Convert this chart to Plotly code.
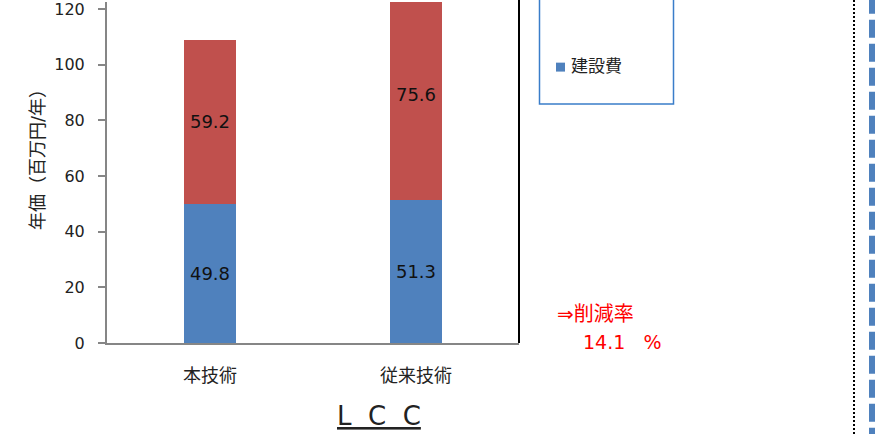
import plotly.graph_objects as go

categories = ["本技術", "従来技術"]
construction = [49.8, 51.3]      # 建設費
maintenance = [59.2, 75.6]       # 維持管理費
series_names = ["建設費", "維持管理費"]
y_ticks = [0, 20, 40, 60, 80, 100, 120]

W, H = 887, 434
L, R, T, B = 107, 519, 0, 343   # plot area in px

def px(x):
    return (x - L) / (R - L)

def py(y):
    return (B - y) / (B - T)

FONT = "DejaVu Sans, Noto Sans CJK JP"
BLUE = "#4F81BD"
RED = "#C0504D"

fig = go.Figure()
fig.add_trace(go.Bar(
    x=categories, y=construction, name=series_names[0],
    marker=dict(color=BLUE, line=dict(width=0)),
    texttemplate="%{y:.1f}", textposition="inside", insidetextanchor="middle",
    textangle=0, textfont=dict(size=18, color="#111", family=FONT),
    showlegend=False,
))
fig.add_trace(go.Bar(
    x=categories, y=maintenance, name=series_names[1],
    marker=dict(color=RED, line=dict(width=0)),
    texttemplate="%{y:.1f}", textposition="inside", insidetextanchor="middle",
    textangle=0, textfont=dict(size=18, color="#111", family=FONT),
    showlegend=False,
))

total_new = construction[0] + maintenance[0]
total_old = construction[1] + maintenance[1]
reduction = round((total_old - total_new) / total_old * 100, 1)

fig.update_layout(
    width=W, height=H, autosize=False,
    margin=dict(l=L, r=W - R, t=T, b=H - B, pad=0),
    barmode="stack", bargap=0.75,
    plot_bgcolor="white", paper_bgcolor="white",
    font=dict(family=FONT, color="#222"),
    showlegend=False,
)
fig.update_yaxes(
    range=[0, (B - T) / 2.8], tickvals=y_ticks,
    showgrid=False, zeroline=False,
    showline=True, linecolor="#868686", linewidth=2,
    ticks="outside", ticklen=7, tickcolor="#868686", tickwidth=1.5,
    tickfont=dict(size=16, color="#222", family=FONT),
    ticklabelstandoff=10, ticklabeloverflow="allow",
)
fig.update_xaxes(
    showgrid=False, zeroline=False,
    showline=True, linecolor="#868686", linewidth=2,
    ticks="", tickfont=dict(size=18, color="#222", family=FONT),
    ticklabelstandoff=15,
)

shapes = []
# right border of chart area
shapes.append(dict(type="line", xref="paper", yref="paper",
                   x0=px(519), x1=px(519), y0=py(343), y1=py(-5),
                   line=dict(color="black", width=2)))
# legend box
shapes.append(dict(type="rect", xref="paper", yref="paper",
                   x0=px(539.5), x1=px(673.5), y0=py(102.5), y1=py(-10),
                   line=dict(color="#3A7DC9", width=1.5), fillcolor="rgba(0,0,0,0)"))
# legend marker
shapes.append(dict(type="rect", xref="paper", yref="paper",
                   x0=px(556), x1=px(565), y0=py(70), y1=py(61),
                   line=dict(width=0), fillcolor=BLUE))
# dotted black vertical line
shapes.append(dict(type="line", xref="paper", yref="paper",
                   x0=px(854), x1=px(854), y0=py(-2), y1=py(436),
                   line=dict(color="black", width=2, dash="2px,2px")))
# dashed blue vertical line
shapes.append(dict(type="line", xref="paper", yref="paper",
                   x0=px(872), x1=px(872), y0=py(-6.3), y1=py(440),
                   line=dict(color=BLUE, width=6, dash="18px,6px")))
fig.update_layout(shapes=shapes)

ann = []
ann.append(dict(text="年価（百万円/年）", xref="paper", yref="paper",
                x=px(37), y=py(154), showarrow=False, textangle=-90,
                font=dict(size=18, color="#222", family=FONT),
                xanchor="center", yanchor="middle"))
ann.append(dict(text=series_names[0], xref="paper", yref="paper",
                x=px(569), y=py(64), showarrow=False,
                font=dict(size=17, color="#222", family=FONT),
                xanchor="left", yanchor="middle"))
ann.append(dict(text="<u>L\u00a0\u00a0C\u00a0\u00a0C</u>", xref="paper", yref="paper",
                x=px(379), y=py(416), showarrow=False,
                font=dict(size=26, color="#222", family=FONT),
                xanchor="center", yanchor="middle"))
ann.append(dict(text="⇒削減率", xref="paper", yref="paper",
                x=px(555), y=py(314), showarrow=False,
                font=dict(size=20, color="#FF0000", family=FONT),
                xanchor="left", yanchor="middle"))
ann.append(dict(text=f"{reduction}\u00a0\u00a0\u00a0%", xref="paper", yref="paper",
                x=px(581), y=py(342), showarrow=False,
                font=dict(size=19, color="#FF0000", family=FONT),
                xanchor="left", yanchor="middle"))
fig.update_layout(annotations=ann)

fig.write_html("out.html")
